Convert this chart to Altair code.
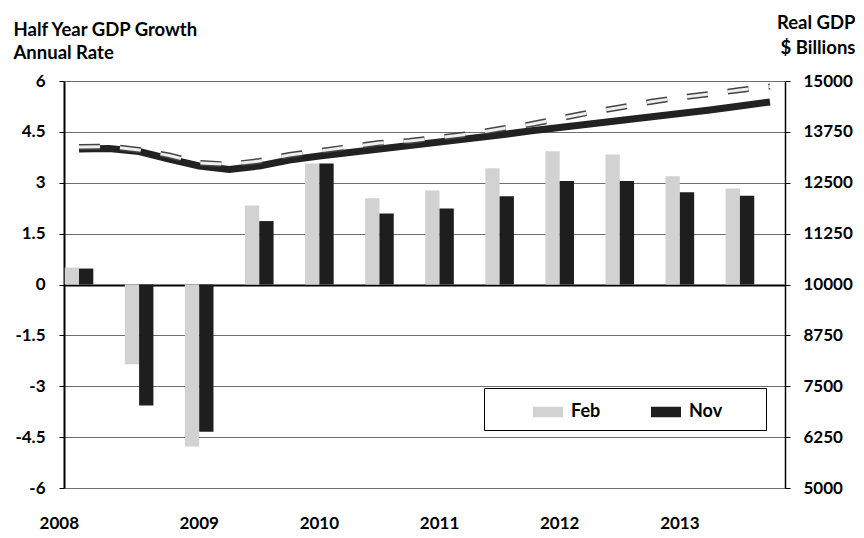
import altair as alt
import pandas as pd

# ---------------- data ----------------
years = [2008, 2009, 2010, 2011, 2012, 2013]
quarters = [f"{y}Q{q}" for y in years for q in range(1, 5)]
half_years = quarters[::2]
series_names = ["Feb", "Nov"]

feb_growth = [0.5, -2.35, -4.78, 2.33, 3.57, 2.54, 2.77, 3.43, 3.93, 3.83, 3.19, 2.83]
nov_growth = [0.47, -3.57, -4.34, 1.87, 3.57, 2.09, 2.24, 2.60, 3.05, 3.05, 2.72, 2.62]

feb_gdp = [13378, 13391, 13305, 13170, 12985, 12948, 13034, 13182, 13280, 13378, 13477, 13526,
           13612, 13698, 13821, 13931, 14079, 14226, 14349, 14484, 14595, 14681, 14779, 14865]
nov_gdp = [13329, 13342, 13268, 13084, 12912, 12826, 12912, 13059, 13157, 13243, 13329, 13415,
           13501, 13587, 13673, 13771, 13857, 13943, 14029, 14115, 14201, 14287, 14386, 14484]

left_ticks = [-6, -4.5, -3, -1.5, 0, 1.5, 3, 4.5, 6]
right_ticks = [5000, 6250, 7500, 8750, 10000, 11250, 12500, 13750, 15000]

bars_df = pd.DataFrame({
    "quarter": half_years * 2,
    "series": ["Feb"] * len(feb_growth) + ["Nov"] * len(nov_growth),
    "growth": feb_growth + nov_growth,
})
lines_df = pd.DataFrame({
    "quarter": quarters * 2,
    "series": ["Feb"] * len(feb_gdp) + ["Nov"] * len(nov_gdp),
    "gdp": feb_gdp + nov_gdp,
})

FONT = "Lato"
NBSP = "\u00a0"
ZWSP = "\u200b"

x_enc = alt.X(
    "quarter:N",
    scale=alt.Scale(domain=quarters, paddingInner=0, paddingOuter=0),
    axis=alt.Axis(
        values=quarters[::4],
        labelExpr="substring(datum.label, 0, 4)",
        labelAngle=0,
        domain=False,
        ticks=False,
        grid=False,
        labelFont=FONT,
        labelFontWeight="bold",
        labelFontSize=17,
        labelColor="black",
        labelBaseline="top",
        labelPadding=27,
        labelAlign={"condition": {"test": "datum.value == '2008Q1'", "value": "right"}, "value": "center"},
        title=None,
    ),
)

y_left = alt.Y(
    "growth:Q",
    scale=alt.Scale(domain=[-6, 6], nice=False),
    axis=alt.Axis(
        values=left_ticks,
        labelExpr="'' + datum.value",
        labelFont=FONT,
        labelFontWeight="bold",
        labelFontSize=17,
        labelColor="black",
        labelPadding=14,
        tickSize=5,
        tickColor="black",
        domainColor="black",
        domainWidth=2,
        grid=True,
        gridColor={"condition": {"test": "datum.value == 0", "value": "black"}, "value": "#6e6e6e"},
        gridWidth={"condition": {"test": "datum.value == 0", "value": 2}, "value": 1},
        title=["Half Year GDP Growth", "Annual Rate"],
        titleAngle=0,
        titleAlign="left",
        titleBaseline="alphabetic",
        titleX=-51,
        titleY=-46,
        titleFont=FONT,
        titleFontSize=18.5,
        titleFontWeight="bold",
        titleColor="black",
        titleLineHeight=23,
    ),
)

y_right = alt.Y(
    "gdp:Q",
    scale=alt.Scale(domain=[5000, 15000], nice=False, zero=False),
    axis=alt.Axis(
        orient="right",
        values=right_ticks,
        labelExpr="'' + datum.value",
        labelFont=FONT,
        labelFontWeight="bold",
        labelFontSize=17,
        labelColor="black",
        labelPadding=13,
        tickSize=5,
        tickColor="black",
        domainColor="black",
        domainWidth=1.5,
        grid=False,
        title=["Real GDP", "$ Billions"],
        titleAngle=0,
        titleAlign="right",
        titleBaseline="alphabetic",
        titleX=70,
        titleY=-53,
        titleFont=FONT,
        titleFontSize=18.5,
        titleFontWeight="bold",
        titleColor="black",
        titleLineHeight=25,
    ),
)

bars = alt.Chart(bars_df).mark_bar().encode(
    x=x_enc,
    xOffset=alt.XOffset("series:N", scale=alt.Scale(domain=series_names, paddingInner=0, paddingOuter=0.05)),
    y=y_left,
    color=alt.Color(
        "series:N",
        scale=alt.Scale(domain=series_names, range=["#d2d2d2", "#1e1e1e"]),
        legend=alt.Legend(
            orient="none",
            legendX=420,
            legendY=307,
            direction="horizontal",
            title=NBSP,
            titleOrient="left",
            titlePadding=40,
            titleFontSize=18,
            strokeColor="black",
            fillColor="white",
            padding=9,
            symbolType="M-1,-0.35H1V0.35H-1Z",
            symbolSize=900,
            symbolStrokeWidth=0,
            symbolOpacity=1,
            labelFont=FONT,
            labelFontSize=18,
            labelFontWeight="bold",
            labelColor="black",
            labelOffset=8,
            columnPadding=50,
            labelExpr="datum.label == 'Nov' ? 'Nov" + NBSP * 8 + ZWSP + "' : datum.label",
        ),
    ),
)

line_base = alt.Chart(lines_df)
nov_line = line_base.transform_filter("datum.series == 'Nov'").mark_line(
    color="#222222", strokeWidth=7
).encode(x=x_enc, y=y_right)
feb_outer = line_base.transform_filter("datum.series == 'Feb'").mark_line(
    color="#444444", strokeWidth=6, strokeDash=[21, 20]
).encode(x=x_enc, y=y_right)
feb_inner = line_base.transform_filter("datum.series == 'Feb'").mark_line(
    color="#eeeeee", strokeWidth=3, strokeDash=[21, 20]
).encode(x=x_enc, y=y_right)

lines = alt.layer(nov_line, feb_outer, feb_inner)

chart = alt.layer(bars, lines).resolve_scale(y="independent").properties(
    width=721,
    height=407,
    autosize=alt.AutoSizeParams(type="none"),
    padding={"left": 56, "top": 73, "right": 70, "bottom": 48},
).configure_view(stroke="black", strokeWidth=1.5).configure(background="white")

chart.save("out.html", embed_options={"renderer": "svg", "actions": False})
